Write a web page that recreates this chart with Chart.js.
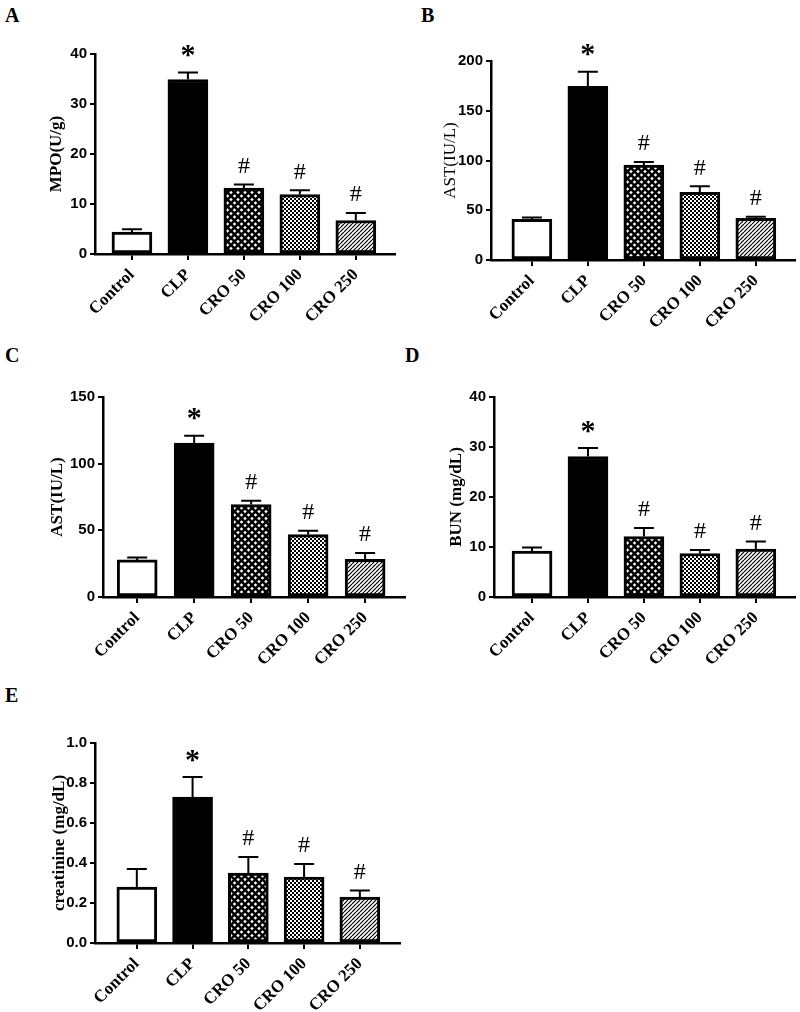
<!DOCTYPE html>
<html lang="en">
<head>
<meta charset="UTF-8">
<title>CRO panels</title>
<script src="https://cdn.jsdelivr.net/npm/chart.js"></script>
<style>
  body { margin: 0; background: #fff; }
  #wrap { position: relative; width: 800px; height: 1012px; overflow: hidden; }
  canvas { position: absolute; }
  .letter { position: absolute; font: bold 20px "Liberation Serif", "Times New Roman", serif; line-height: 1; }
</style>
</head>
<body>
<div id="wrap">
  <div class="letter" style="left:5px;top:5px">A</div>
  <div class="letter" style="left:421px;top:5px">B</div>
  <div class="letter" style="left:5px;top:345px">C</div>
  <div class="letter" style="left:405px;top:345px">D</div>
  <div class="letter" style="left:5px;top:685px">E</div>
  <canvas id="chartA" width="400" height="340" style="left:0;top:0"></canvas>
  <canvas id="chartB" width="400" height="340" style="left:400px;top:0"></canvas>
  <canvas id="chartC" width="410" height="340" style="left:0;top:340px"></canvas>
  <canvas id="chartD" width="400" height="340" style="left:400px;top:340px"></canvas>
  <canvas id="chartE" width="410" height="332" style="left:0;top:680px"></canvas>
</div>

<script>
// groups and significance marks
const categories = ['Control', 'CLP', 'CRO 50', 'CRO 100', 'CRO 250'];
const marks = ['', '*', '#', '#', '#'];

// A - MPO
const mpoMean = [4.4, 34.9, 13.2, 11.9, 6.7];
const mpoErr = [0.55, 1.4, 0.7, 0.85, 1.5];
// B - AST
const astBMean = [40.8, 174.5, 95.5, 68.0, 42.0];
const astBErr = [2.0, 14.7, 3.0, 6.0, 1.4];
// C - AST
const astCMean = [27.8, 115.5, 69.3, 46.8, 28.3];
const astCErr = [1.8, 5.5, 2.8, 2.8, 4.7];
// D - BUN
const bunMean = [9.2, 28.1, 12.1, 8.7, 9.6];
const bunErr = [0.7, 1.7, 1.7, 0.7, 1.5];
// E - creatinine
const creatMean = [0.28, 0.73, 0.35, 0.33, 0.23];
const creatErr = [0.09, 0.10, 0.08, 0.065, 0.032];

// y axis ranges
const yMaxes = [40, 200, 150, 40, 1.0];
const ySteps = [10, 50, 50, 10, 0.2];

// fill patterns for the treated groups
function makePattern(size, draw) {
    const c = document.createElement('canvas');
    c.width = size; c.height = size;
    const g = c.getContext('2d');
    g.fillStyle = '#fff';
    g.fillRect(0, 0, size, size);
    g.fillStyle = '#000';
    g.strokeStyle = '#000';
    draw(g, size);
    return document.createElement('canvas').getContext('2d').createPattern(c, 'repeat');
}

const crossPattern = makePattern(7, (g, s) => {
    g.lineWidth = 2.5;
    for (const k of [-s, 0, s]) {
        g.beginPath(); g.moveTo(k, 0); g.lineTo(k + s, s); g.stroke();
        g.beginPath(); g.moveTo(k + s, 0); g.lineTo(k, s); g.stroke();
    }
});
const checkPattern = makePattern(4, (g) => {
    g.fillRect(0, 0, 2, 2);
    g.fillRect(2, 2, 2, 2);
});
const hatchPattern = makePattern(4, (g, s) => {
    g.lineWidth = 1.2;
    for (const k of [-s, 0, s]) {
        g.beginPath(); g.moveTo(k, s); g.lineTo(k + s, 0); g.stroke();
    }
});
const barFills = ['#fff', '#000', crossPattern, checkPattern, hatchPattern];

// error bars + * / # marks
const errorBars = {
    id: 'errorBars',
    afterDatasetsDraw(chart, args, opts) {
        const { ctx, scales: { x, y } } = chart;
        const data = chart.data.datasets[0].data;
        ctx.save();
        ctx.strokeStyle = '#000';
        ctx.fillStyle = '#000';
        ctx.lineWidth = 2;
        ctx.textAlign = 'center';
        ctx.textBaseline = 'middle';
        data.forEach((d, i) => {
            const px = x.getPixelForValue(d.x);
            const top = y.getPixelForValue(d.y);
            const cap = y.getPixelForValue(d.y + opts.err[i]);
            ctx.beginPath();
            ctx.moveTo(px, top); ctx.lineTo(px, cap);
            ctx.moveTo(px - 10, cap); ctx.lineTo(px + 10, cap);
            ctx.stroke();
            const m = marks[i];
            if (m === '*') {
                ctx.font = 'bold 30px "Liberation Serif", serif';
                ctx.fillText(m, px, cap - 16);
            } else if (m === '#') {
                ctx.font = '24px "Liberation Serif", serif';
                ctx.fillText(m, px, cap - 18);
            }
        });
        ctx.restore();
    }
};

function drawPanel(id, mean, err, p) {
    const canvas = document.getElementById(id);
    new Chart(canvas.getContext('2d'), {
        type: 'bar',
        data: {
            datasets: [{
                data: mean.map((v, i) => ({ x: i, y: v })),
                backgroundColor: barFills,
                borderColor: '#000',
                borderWidth: 3,
                borderSkipped: false,
                barThickness: 40
            }]
        },
        plugins: [errorBars],
        options: {
            responsive: false,
            animation: false,
            layout: { padding: { left: 0, top: p.topY, right: canvas.width - p.rightX, bottom: 0 } },
            plugins: {
                legend: { display: false },
                tooltip: { enabled: false },
                errorBars: { err: err }
            },
            scales: {
                x: {
                    type: 'linear',
                    offset: false,
                    min: p.xmin,
                    max: p.xmax,
                    afterBuildTicks: s => { s.ticks = categories.map((c, i) => ({ value: i })); },
                    afterFit: s => { s.height = canvas.height - p.zeroY; },
                    grid: { offset: false, drawOnChartArea: false, drawTicks: true, tickLength: 6, color: '#000', lineWidth: 2 },
                    border: { color: '#000', width: 2.5 },
                    ticks: {
                        autoSkip: false,
                        minRotation: 45,
                        maxRotation: 45,
                        padding: 5,
                        color: '#000',
                        font: { family: '"Liberation Serif", serif', size: 17, weight: 'bold' },
                        callback: v => categories[v]
                    }
                },
                y: {
                    min: 0,
                    max: p.yMax,
                    afterFit: s => { s.width = p.axisX; },
                    grid: { drawOnChartArea: false, drawTicks: true, tickLength: 5, color: '#000', lineWidth: 2 },
                    border: { color: '#000', width: 2.5 },
                    ticks: {
                        stepSize: p.yStep,
                        padding: 3,
                        color: '#000',
                        font: { family: '"Liberation Sans", Arial, sans-serif', size: 15, weight: 'bold' },
                        callback: v => p.yStep < 1 ? v.toFixed(1) : v
                    },
                    title: {
                        display: true,
                        text: p.title,
                        color: '#000',
                        padding: { top: p.titleX - 10.2, bottom: 0 },
                        font: { family: '"Liberation Serif", serif', size: 17, weight: p.titleWeight || 'bold' }
                    }
                }
            }
        }
    });
}

drawPanel('chartA', mpoMean, mpoErr, { axisX: 95, topY: 54, zeroY: 254, rightX: 395, xmin: -0.66, xmax: 4.70, yMax: yMaxes[0], yStep: ySteps[0], titleX: 57, title: 'MPO(U/g)' });
drawPanel('chartB', astBMean, astBErr, { axisX: 91, topY: 61, zeroY: 260, rightX: 395, xmin: -0.73, xmax: 4.70, yMax: yMaxes[1], yStep: ySteps[1], titleX: 51, title: 'AST(IU/L)', titleWeight: 'normal' });
drawPanel('chartC', astCMean, astCErr, { axisX: 103, topY: 57, zeroY: 257, rightX: 405, xmin: -0.60, xmax: 4.70, yMax: yMaxes[2], yStep: ySteps[2], titleX: 58, title: 'AST(IU/L)' });
drawPanel('chartD', bunMean, bunErr, { axisX: 94, topY: 57, zeroY: 257, rightX: 395, xmin: -0.68, xmax: 4.70, yMax: yMaxes[3], yStep: ySteps[3], titleX: 57, title: 'BUN (mg/dL)' });
drawPanel('chartE', creatMean, creatErr, { axisX: 95, topY: 63, zeroY: 263, rightX: 400, xmin: -0.75, xmax: 4.72, yMax: yMaxes[4], yStep: ySteps[4], titleX: 60, title: 'creatinine (mg/dL)' });
</script>
</body>
</html>
